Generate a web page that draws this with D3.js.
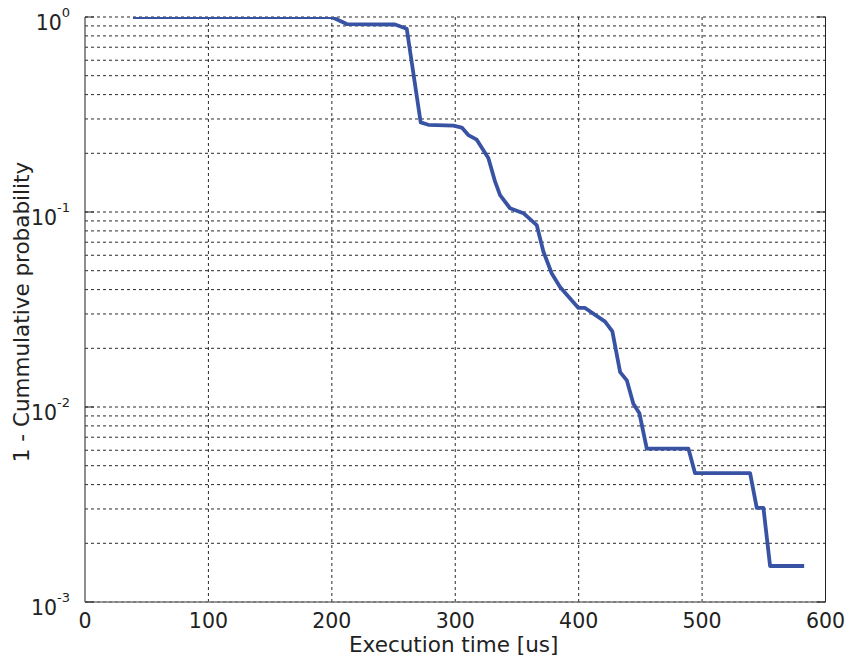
<!DOCTYPE html>
<html>
<head>
<meta charset="utf-8">
<script src="https://cdn.jsdelivr.net/npm/d3@7"></script>
<style>
  body { margin: 0; background: #fff; }
  text { font-family: "DejaVu Sans", sans-serif; fill: #222; }
</style>
</head>
<body>
<div id="chart"></div>
<script>
// execution time [us] and 1 - cumulative probability
const times = [38.9, 199.9, 212.1, 251.2, 260.7, 272.0, 278.2, 298.5, 305.3, 310.6,
  317.4, 326.8, 332.3, 336.3, 344.4, 355.2, 366.0, 371.4, 378.2, 384.9,
  399.8, 405.2, 421.4, 427.3, 433.6, 439.0, 444.3, 449.2, 455.2, 488.9,
  494.3, 538.9, 544.3, 549.7, 555.1, 582.7];
const probs = [1.0, 1.0, 0.92, 0.915, 0.871, 0.288, 0.28, 0.277, 0.271, 0.248,
  0.235, 0.189, 0.143, 0.122, 0.1045, 0.0986, 0.0857, 0.0627, 0.0484, 0.0413,
  0.0322, 0.0322, 0.0274, 0.0244, 0.0151, 0.0137, 0.0104, 0.00929, 0.00612, 0.00612,
  0.00458, 0.00458, 0.00304, 0.00304, 0.00153, 0.00153];
const xTicks = [0, 100, 200, 300, 400, 500, 600];
const yDecades = [-3, -2, -1, 0];

const width = 848, height = 657;
const m = { left: 85, right: 22.5, top: 17, bottom: 55 };

const svg = d3.select('#chart').append('svg')
  .attr('width', width).attr('height', height);

const x = d3.scaleLinear().domain([0, 600]).range([m.left, width - m.right]);
const y = d3.scaleLog().domain([1e-3, 1]).range([height - m.bottom, m.top]);

// grid lines
let yGrid = [];
for (let e = -3; e < 0; e++) {
  for (let k = 1; k <= 9; k++) yGrid.push(k * Math.pow(10, e));
}
yGrid.push(1);

svg.append('g').selectAll('line').data(yGrid).enter().append('line')
  .attr('x1', x(0)).attr('x2', x(600))
  .attr('y1', d => y(d)).attr('y2', d => y(d))
  .attr('stroke', '#111').attr('stroke-width', 0.9)
  .attr('stroke-dasharray', '3,3');

svg.append('g').selectAll('line').data(xTicks.slice(1)).enter().append('line')
  .attr('x1', d => x(d)).attr('x2', d => x(d))
  .attr('y1', y(1)).attr('y2', y(1e-3))
  .attr('stroke', '#111').attr('stroke-width', 0.9)
  .attr('stroke-dasharray', '3,3');

// frame
svg.append('line').attr('x1', x(0)).attr('x2', x(0)).attr('y1', y(1)).attr('y2', y(1e-3))
  .attr('stroke', '#444').attr('stroke-width', 1.2);
svg.append('line').attr('x1', x(600)).attr('x2', x(600)).attr('y1', y(1)).attr('y2', y(1e-3))
  .attr('stroke', '#222').attr('stroke-width', 1);
svg.append('line').attr('x1', x(0)).attr('x2', x(600)).attr('y1', y(1e-3)).attr('y2', y(1e-3))
  .attr('stroke', '#777').attr('stroke-width', 1.4);

// decade ticks, inward on both sides
svg.append('g').selectAll('line').data(yDecades).enter().append('line')
  .attr('x1', x(0)).attr('x2', x(0) + 9)
  .attr('y1', d => y(Math.pow(10, d))).attr('y2', d => y(Math.pow(10, d)))
  .attr('stroke', '#222');
svg.append('g').selectAll('line').data(yDecades).enter().append('line')
  .attr('x1', x(600) - 9).attr('x2', x(600))
  .attr('y1', d => y(Math.pow(10, d))).attr('y2', d => y(Math.pow(10, d)))
  .attr('stroke', '#222');

// data line
svg.append('clipPath').attr('id', 'plotclip').append('rect')
  .attr('x', x(0)).attr('y', y(1)).attr('width', x(600) - x(0)).attr('height', y(1e-3) - y(1));

const line = d3.line().x(d => x(d[0])).y(d => y(d[1]));
svg.append('path')
  .datum(d3.zip(times, probs))
  .attr('clip-path', 'url(#plotclip)')
  .attr('d', line)
  .attr('fill', 'none')
  .attr('stroke', '#3853a4')
  .attr('stroke-width', 3.8)
  .attr('stroke-linejoin', 'round');

// x tick labels
svg.append('g').selectAll('text').data(xTicks).enter().append('text')
  .attr('x', d => x(d)).attr('y', 628)
  .attr('text-anchor', 'middle')
  .style('font-size', '20.5px')
  .text(d => d);

// y tick labels with superscript
const yl = svg.append('g').selectAll('text').data(yDecades).enter().append('text')
  .attr('x', 70).attr('y', d => y(Math.pow(10, d)) + 12.5)
  .attr('text-anchor', 'end')
  .style('font-size', '20.5px');
yl.append('tspan').text('10');
yl.append('tspan').attr('dy', -12.5).style('font-size', '13px').text(d => d);

// axis titles
svg.append('text')
  .attr('x', 453.7).attr('y', 651.5)
  .attr('text-anchor', 'middle')
  .style('font-size', '21.5px')
  .text('Execution time [us]');

svg.append('text')
  .attr('transform', 'translate(28.5,312) rotate(-90)')
  .attr('text-anchor', 'middle')
  .style('font-size', '21.5px')
  .text('1 - Cummulative probability');
</script>
</body>
</html>
